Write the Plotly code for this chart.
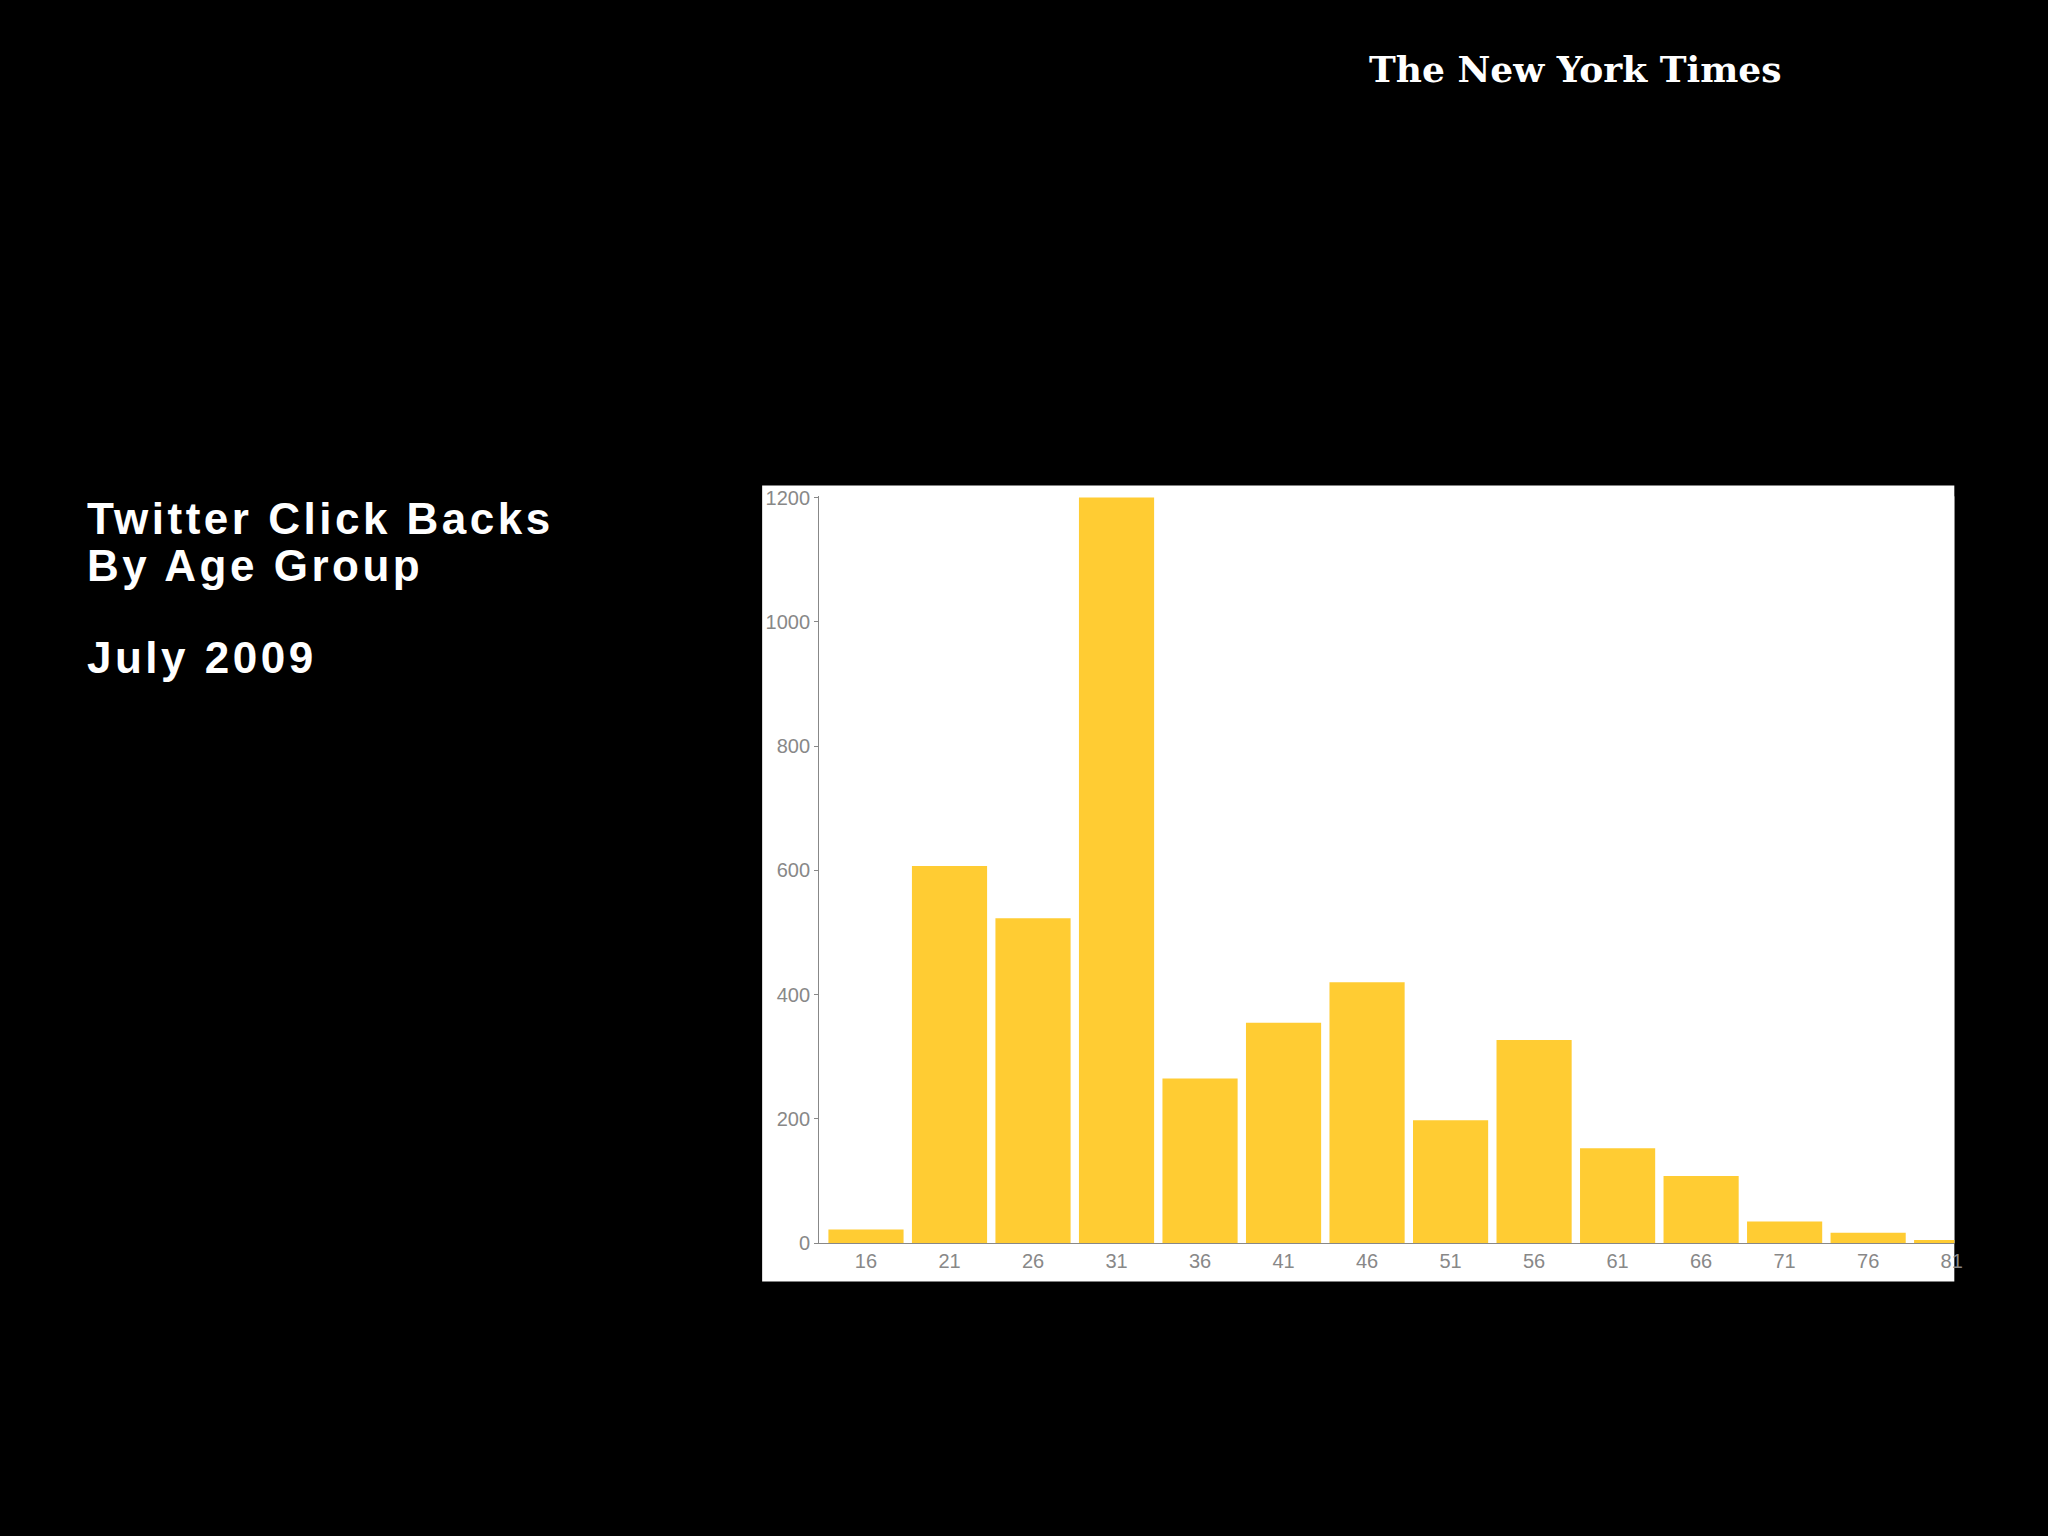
import plotly.graph_objects as go

ages = [16, 21, 26, 31, 36, 41, 46, 51, 56, 61, 66, 71, 76, 81]
clicks = [22, 607, 523, 1200, 265, 355, 420, 198, 327, 153, 108, 35, 17, 5]
y_ticks = [0, 200, 400, 600, 800, 1000, 1200]

BAR = '#FFCC33'
GRAY = '#888888'

fig = go.Figure(go.Bar(
    x=ages, y=clicks, width=4.5,
    marker=dict(color=BAR, line=dict(width=0)),
))

title_lines = [('Twitter Click Backs', 516), ('By Age Group', 563), ('July 2009', 656)]
annotations = [
    dict(text=f'<b>{t}</b>', xref='paper', yref='paper', x=87/2048, y=1-py/1536,
         xanchor='left', yanchor='middle', showarrow=False,
         font=dict(family='Liberation Sans, Arial', size=44, color='white'))
    for t, py in title_lines
]
annotations.append(dict(
    text='<b>The New York Times</b>', xref='paper', yref='paper',
    x=1582/2048, y=1-60/1536, xanchor='center', yanchor='middle', showarrow=False,
    font=dict(family='DejaVu Serif', size=36, color='white')))

fig.update_layout(
    width=2048, height=1536,
    paper_bgcolor='black', plot_bgcolor='white',
    margin=dict(l=0, r=0, t=0, b=0),
    showlegend=False,
    xaxis=dict(domain=[0.4015, 0.958], range=[13.19, 81.16],
               tickvals=ages, ticks='', showgrid=False, zeroline=False,
               showline=True, linecolor=GRAY, linewidth=1,
               tickfont=dict(family='Liberation Sans, Arial', size=20, color=GRAY)),
    yaxis=dict(domain=[0.186, 0.679], range=[0, 1202],
               tickvals=y_ticks, ticks='outside', ticklen=4, tickcolor=GRAY,
               showgrid=False, zeroline=False,
               showline=True, linecolor=GRAY, linewidth=1,
               tickfont=dict(family='Liberation Sans, Arial', size=20, color=GRAY)),
    shapes=[dict(type='rect', xref='paper', yref='paper',
                 x0=0.3736, x1=0.958, y0=0.1608, y1=0.6862,
                 fillcolor='white', line=dict(width=0), layer='below')],
    annotations=annotations,
)

post = """
document.body.style.margin='0';
document.body.style.background='black';
var a = document.querySelectorAll('.annotation-text');
for (var i = 0; i < 3 && i < a.length; i++) {
  a[i].style.letterSpacing = '3.5px';
  var left = a[i].getBoundingClientRect().left;
  a[i].setAttribute('x', parseFloat(a[i].getAttribute('x') || 0) + (87 - left));
}
"""
fig.write_html('out.html', post_script=post, config={'displayModeBar': False})
